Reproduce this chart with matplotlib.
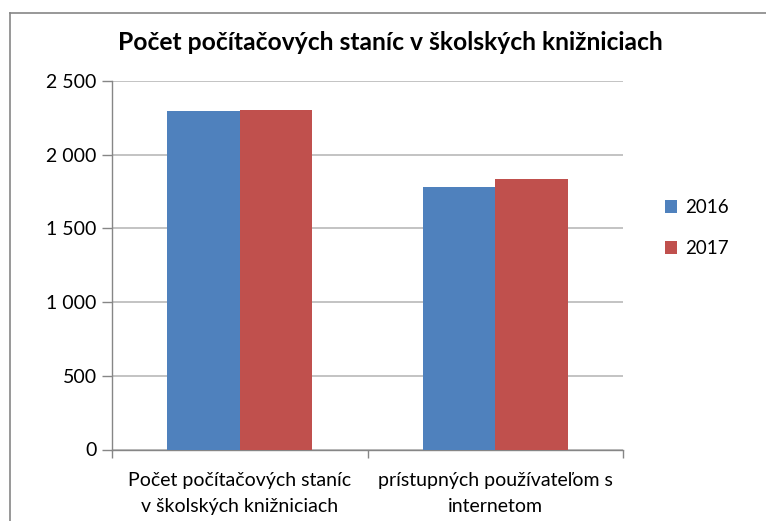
import numpy as np
import matplotlib.pyplot as plt
from matplotlib.lines import Line2D
from matplotlib.ticker import FuncFormatter

plt.rcParams['font.family'] = ['Lato', 'DejaVu Sans']

# Data
categories = ['Počet počítačových staníc\nv školských knižniciach',
              'prístupných používateľom s\ninternetom']
years = ['2016', '2017']
values_2016 = [2296, 1781]
values_2017 = [2303, 1835]
colors = ['#4F81BD', '#C0504D']

W, H = 766, 521
fig = plt.figure(figsize=(W / 100, H / 100), dpi=100)
ax = fig.add_axes([112 / W, 71.5 / H, 511 / W, 368.5 / H])

x = np.arange(len(categories))
bw = 0.284
ax.bar(x - bw / 2, values_2016, bw, color=colors[0], label=years[0], zorder=3)
ax.bar(x + bw / 2, values_2017, bw, color=colors[1], label=years[1], zorder=3)

ax.set_xlim(-0.5, len(categories) - 0.5)
ax.set_ylim(0, 2500)
ax.set_yticks(np.arange(0, 2501, 500))
ax.yaxis.set_major_formatter(FuncFormatter(lambda v, p: f'{int(v):,}'.replace(',', ' ')))
ax.grid(axis='y', color='#BEBEBE', linewidth=1.3, zorder=0)

# category boundaries as major ticks, labels on minor ticks
ax.set_xticks(np.arange(-0.5, len(categories)), labels=[''] * (len(categories) + 1))
ax.set_xticks(x, labels=categories, minor=True)
for lbl in ax.get_xticklabels(minor=True):
    lbl.set_linespacing(1.65)
ax.tick_params(axis='x', which='major', length=6, color='#868686', width=1)
ax.tick_params(axis='x', which='minor', length=0, pad=16, labelsize=14)
ax.tick_params(axis='y', length=7, color='#868686', width=1, labelsize=14, pad=4)

for s in ['top', 'right']:
    ax.spines[s].set_visible(False)
for s in ['left', 'bottom']:
    ax.spines[s].set_color('#868686')
    ax.spines[s].set_linewidth(1)

fig.text(390 / W, 1 - 43 / H, 'Počet počítačových staníc v školských knižniciach',
         ha='center', va='center', fontsize=17.7, fontweight='bold')

fig.legend(loc='upper left', bbox_to_anchor=(648 / W, 1 - 182 / H), frameon=False,
           fontsize=13.5, handlelength=0.65, handleheight=0.65, handletextpad=0.45,
           labelspacing=1.3)

# outer chart border
fig.add_artist(Line2D([10 / W, 1], [1 - 13 / H, 1 - 13 / H], color='#868686', lw=1.2))
fig.add_artist(Line2D([10 / W, 10 / W], [0, 1 - 13 / H], color='#868686', lw=1.2))

fig.savefig('out.png', dpi=100)
